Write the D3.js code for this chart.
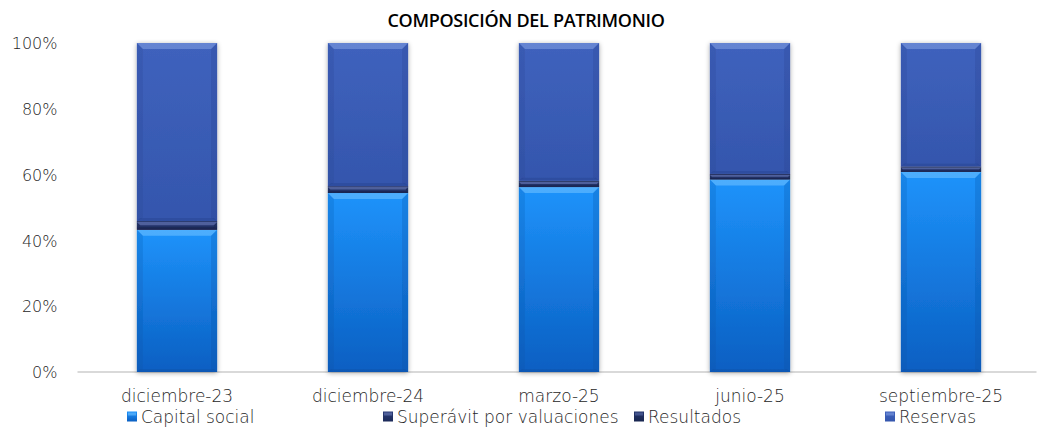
<!DOCTYPE html>
<html><head><meta charset="utf-8">
<script src="https://cdn.jsdelivr.net/npm/d3@7"></script>
<style>
body{margin:0;background:#fff;}
svg{display:block;}
</style></head>
<body>
<svg id="chart" width="1058" height="428"></svg>
<script>
const categories = ["diciembre-23","diciembre-24","marzo-25","junio-25","septiembre-25"];
const capitalSocial = [43.2, 54.4, 56.2, 58.5, 60.8];
const superavit = [2.4, 1.8, 1.6, 1.4, 1.4];
const resultados = [0.3, 0.3, 0.3, 0.3, 0.3];
const reservas = categories.map((c,i)=> 100 - capitalSocial[i]-superavit[i]-resultados[i]);
const seriesNames = ["Capital social","Superávit por valuaciones","Resultados","Reservas"];
const yTicks = [0,20,40,60,80,100];

const seriesColors = [
  {top:"#1e93fb", bot:"#0b5fc2", light:"#6cc0ff", dark:"#0a4fa0"},
  {top:"#2b3c78", bot:"#1c2a58", light:"#6a7bb8", dark:"#141e40"},
  {top:"#24356c", bot:"#18264f", light:"#5a6aa8", dark:"#121a38"},
  {top:"#3f62bd", bot:"#3456ad", light:"#7f9be0", dark:"#26408a"}
];
const labelFont = "'DejaVu Sans'";
const labelColor = "#262626";

const svg = d3.select("#chart");
const W=1058,H=428;
const m={left:81.5,right:21.5,top:43,bottom:56};
const x = d3.scaleBand().domain(categories).range([m.left, W-m.right]).paddingInner(0.58).paddingOuter(0.29);
const y = d3.scaleLinear().domain([0,100]).range([H-m.bottom, m.top]);

const defs = svg.append("defs");
seriesColors.forEach((c,i)=>{
  const g = defs.append("linearGradient").attr("id","g"+i).attr("x1",0).attr("y1",0).attr("x2",0).attr("y2",1);
  g.append("stop").attr("offset","0%").attr("stop-color",c.top);
  g.append("stop").attr("offset","100%").attr("stop-color",c.bot);
});
const f = defs.append("filter").attr("id","sh").attr("x","-20%").attr("y","-5%").attr("width","140%").attr("height","110%");
f.append("feGaussianBlur").attr("in","SourceAlpha").attr("stdDeviation",2.5).attr("result","b");
f.append("feOffset").attr("in","b").attr("dx",0).attr("dy",1).attr("result","o");
f.append("feComponentTransfer").attr("in","o").attr("result","o2").append("feFuncA").attr("type","linear").attr("slope",0.35);
const fm = f.append("feMerge"); fm.append("feMergeNode").attr("in","o2"); fm.append("feMergeNode").attr("in","SourceGraphic");

// title
svg.append("text").attr("x",526).attr("y",21).attr("text-anchor","middle").attr("dy","0.35em")
  .attr("font-family","'Open Sans'").attr("font-weight",600).attr("font-size",18).attr("letter-spacing",-0.3)
  .attr("fill","#000").text("COMPOSICIÓN DEL PATRIMONIO");

// y axis labels
const yAxis = d3.axisLeft(y).tickValues(yTicks).tickFormat(d=>d+"%").tickSize(0).tickPadding(0);
const ya = svg.append("g").attr("transform",`translate(${m.left-24},0)`).call(yAxis);
ya.select(".domain").remove();
ya.selectAll("text").attr("font-family",labelFont).attr("font-weight",300).attr("font-size",16).attr("fill",labelColor).attr("dy","0.35em");

// baseline
svg.append("line").attr("x1",m.left-4).attr("x2",W-m.right).attr("y1",y(0)).attr("y2",y(0)).attr("stroke","#d9d9d9").attr("stroke-width",2);

// stacked bars
const data = categories.map((c,i)=>({cat:c, v:[capitalSocial[i],superavit[i],resultados[i],reservas[i]]}));
const stack = d3.stack().keys([0,1,2,3]).value((d,k)=>d.v[k]);
const layers = stack(data);

const barG = svg.append("g");
data.forEach((d,i)=>{
  const gb = barG.append("g").attr("filter","url(#sh)");
  layers.forEach((L,k)=>{
    const s = L[i];
    const x0 = x(d.cat), bw = x.bandwidth();
    const y0 = y(s[1]), y1 = y(s[0]);
    const h = y1-y0;
    if(h<=0) return;
    const c = seriesColors[k];
    gb.append("rect").attr("x",x0).attr("y",y0).attr("width",bw).attr("height",h).attr("fill",`url(#g${k})`);
    const bv = Math.min(6, h/2.5);
    const bb = Math.min(3, h/3);
    gb.append("polygon").attr("points",[[x0,y0],[x0+bw,y0],[x0+bw-bv,y0+bv],[x0+bv,y0+bv]].join(" ")).attr("fill",c.light).attr("opacity",0.6);
    gb.append("polygon").attr("points",[[x0,y1],[x0+bw,y1],[x0+bw-bb,y1-bb],[x0+bb,y1-bb]].join(" ")).attr("fill",c.dark).attr("opacity",0.35);
    gb.append("polygon").attr("points",[[x0,y0],[x0+bv,y0+bv],[x0+bv,y1-bb],[x0,y1]].join(" ")).attr("fill",c.dark).attr("opacity",0.2);
    gb.append("polygon").attr("points",[[x0+bw,y0],[x0+bw-bv,y0+bv],[x0+bw-bv,y1-bb],[x0+bw,y1]].join(" ")).attr("fill",c.dark).attr("opacity",0.25);
  });
});

// x axis labels
const xAxis = d3.axisBottom(x).tickSize(0).tickPadding(0);
const xa = svg.append("g").attr("transform",`translate(0,${y(0)+24.5})`).call(xAxis);
xa.select(".domain").remove();
xa.selectAll("text").attr("font-family",labelFont).attr("font-weight",300).attr("font-size",17).attr("fill",labelColor).attr("dy","0.35em");

// legend
const legX = [127, 383, 634, 885];
const leg = svg.append("g");
seriesNames.forEach((n,k)=>{
  const g = leg.append("g").attr("transform",`translate(${legX[k]},${411.5})`);
  g.append("rect").attr("width",10).attr("height",10).attr("fill",`url(#g${k})`);
  g.append("rect").attr("x",1).attr("y",1).attr("width",8).attr("height",3).attr("fill",seriesColors[k].light).attr("opacity",0.6);
  g.append("text").attr("x",14).attr("y",5.5).attr("dy","0.35em").attr("font-family",labelFont).attr("font-weight",300)
   .attr("font-size",17).attr("fill",labelColor).text(n);
});
</script>
</body></html>
